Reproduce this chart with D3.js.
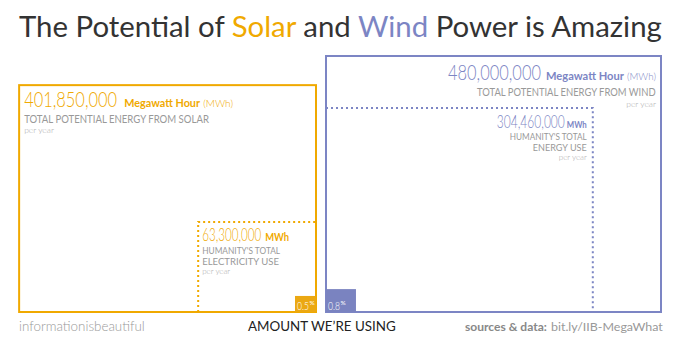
<!DOCTYPE html>
<html>
<head>
<meta charset="utf-8">
<script src="https://cdn.jsdelivr.net/npm/d3@7/dist/d3.min.js"></script>
<style>
  html, body { margin: 0; padding: 0; background: #fff; }
  svg { display: block; font-family: Lato, "Noto Sans", sans-serif; }
</style>
</head>
<body>
<svg id="chart" width="680" height="340"></svg>
<script>
// ---- data ----
const sources = ["Solar", "Wind"];
const potentialMWh = [401850000, 480000000];
const humanityUseMWh = [63300000, 304460000];
const usedPct = [0.5, 0.8];
const potentialLabels = ["TOTAL POTENTIAL ENERGY FROM SOLAR", "TOTAL POTENTIAL ENERGY FROM WIND"];
const useLabels = [["HUMANITY'S TOTAL", "ELECTRICITY USE"], ["HUMANITY'S TOTAL", "ENERGY USE"]];
const colours = ["#F0A900", "#7C85C4"];
const fills = ["#EBA812", "#7A83C0"];

const svg = d3.select("#chart");
const fmt = d3.format(",");

// ---- layout ----
const baseY = 312;      // common bottom line of both boxes
const gapCentre = 321;  // solar box grows leftwards, wind box rightwards
const gap = 5;

// box sides grow with a power of the value
const side = d3.scalePow().exponent(0.68).domain([0, d3.max(potentialMWh)]);
const wScale = side.copy().range([0, 335]);
const hScale = side.copy().range([0, 256]);

// a single text piece; when a width is given the glyphs are squeezed
// horizontally to it, which gives the narrow look of the figures
function piece(g, s, o) {
  const t = g.append("text").text(s)
    .attr("font-size", o.size).attr("fill", o.fill)
    .attr("font-weight", o.weight || 400);
  const w0 = t.node().getComputedTextLength();
  return { t, w: o.width || w0, k: o.width ? o.width / w0 : 1, dx: o.dx || 0, dy: o.dy || 0 };
}

// a row of pieces laid side by side, anchored at x
function row(g, x, y, anchor, parts) {
  const ps = parts.map(p => piece(g, p.s, p));
  const total = d3.sum(ps, p => p.w + p.dx);
  let cx = anchor === "end" ? x - total : anchor === "middle" ? x - total / 2 : x;
  ps.forEach(p => {
    cx += p.dx;
    p.t.attr("transform", `translate(${cx},${y + p.dy}) scale(${p.k},1)`);
    cx += p.w;
  });
}

// ---- title ----
const title = svg.append("text").attr("x", 19).attr("y", 37)
  .attr("font-size", 27).attr("fill", "#333").attr("font-weight", 400);
title.append("tspan").text("The Potential of ");
title.append("tspan").text("Solar").attr("fill", colours[0]);
title.append("tspan").text(" and ");
title.append("tspan").text("Wind").attr("fill", colours[1]);
title.append("tspan").text(" Power is Amazing");
const tw = title.node().getComputedTextLength();
title.attr("font-size", 27 * 643 / tw);

// ---- boxes ----
sources.forEach((name, i) => {
  const V = potentialMWh[i];
  const bw = wScale(V), bh = hScale(V);
  const x0 = i === 0 ? gapCentre - gap - bw : gapCentre + gap;
  const x1 = x0 + bw;
  const y0 = baseY - bh;
  const col = colours[i];
  const g = svg.append("g").attr("class", "source-" + name.toLowerCase());

  // inner box: humanity's use, area relative to the potential
  const inner = d3.scaleSqrt().domain([0, V]);
  const iw = inner.copy().range([0, bw])(humanityUseMWh[i]);
  const ih = inner.copy().range([0, bh])(humanityUseMWh[i]);
  // smallest box: share of the potential actually being used
  const uw = inner.copy().range([0, bw])(V * usedPct[i] / 100);
  const uh = inner.copy().range([0, bh])(V * usedPct[i] / 100);

  // outer frame
  g.append("rect").attr("x", x0).attr("y", y0).attr("width", bw).attr("height", bh)
    .attr("fill", "none").attr("stroke", col).attr("stroke-width", 2);

  // dotted inner frame
  const iy = baseY - ih;
  let pts;
  if (i === 0) {
    const ix = x1 - iw;
    pts = [[ix, baseY], [ix, iy], [x1, iy]];
  } else {
    const ix = x0 + iw;
    pts = [[x0, iy], [ix, iy], [ix, baseY]];
  }
  g.append("path").attr("d", d3.line()(pts)).attr("fill", "none")
    .attr("stroke", col).attr("stroke-width", 2).attr("stroke-dasharray", "2,3");

  // used share block
  const ux = i === 0 ? x1 - uw : x0;
  g.append("rect").attr("x", ux).attr("y", baseY - uh).attr("width", uw).attr("height", uh)
    .attr("fill", fills[i]);
  row(g, ux + 2, baseY - 2, "start", [
    { s: String(usedPct[i]), size: 12, fill: "#fff", weight: 300, width: 12 },
    { s: "%", size: 6.5, fill: "#fff", dx: 0.5, dy: -5 }
  ]);

  // potential labels
  if (i === 0) {
    const lx = x0 + 5;
    row(g, lx, y0 + 22, "start", [
      { s: fmt(V), size: 22, fill: col, weight: 300, width: 93 },
      { s: "Megawatt Hour", size: 12, fill: col, weight: 700, width: 76, dx: 7 },
      { s: "(MWh)", size: 9, fill: col, weight: 300, width: 30, dx: 3 }
    ]);
    row(g, lx, y0 + 38, "start", [{ s: potentialLabels[i], size: 10.5, fill: "#999", width: 185 }]);
    row(g, lx, y0 + 48, "start", [{ s: "per year", size: 8.5, fill: "#aaa", weight: 300 }]);
  } else {
    const rx = x1 - 5;
    row(g, rx, y0 + 24, "end", [
      { s: fmt(V), size: 22, fill: col, weight: 300, width: 93 },
      { s: "Megawatt Hour", size: 12, fill: col, weight: 700, width: 78, dx: 5 },
      { s: "(MWh)", size: 9, fill: col, weight: 300, width: 29, dx: 3 }
    ]);
    row(g, rx, y0 + 40, "end", [{ s: potentialLabels[i], size: 10.5, fill: "#999", width: 179 }]);
    row(g, rx, y0 + 51, "end", [{ s: "per year", size: 8.5, fill: "#aaa", weight: 300 }]);
  }

  // humanity's use labels
  if (i === 0) {
    const lx = x1 - iw + 4;
    row(g, lx, iy + 19, "start", [
      { s: fmt(humanityUseMWh[i]), size: 17, fill: col, weight: 300, width: 59 },
      { s: "MWh", size: 11, fill: col, weight: 700, width: 24, dx: 4 }
    ]);
    row(g, lx, iy + 32, "start", [{ s: useLabels[i][0], size: 9.5, fill: "#999", width: 78 }]);
    row(g, lx, iy + 43, "start", [{ s: useLabels[i][1], size: 9.5, fill: "#999", width: 77 }]);
    row(g, lx, iy + 52, "start", [{ s: "per year", size: 8, fill: "#aaa", weight: 300 }]);
  } else {
    const rx = x0 + iw - 6;
    row(g, rx, iy + 20, "end", [
      { s: fmt(humanityUseMWh[i]), size: 17, fill: col, weight: 300, width: 68 },
      { s: "MWh", size: 10, fill: col, weight: 700, width: 20, dx: 2 }
    ]);
    row(g, rx, iy + 32, "end", [{ s: useLabels[i][0], size: 10, fill: "#999", width: 77 }]);
    row(g, rx, iy + 43, "end", [{ s: useLabels[i][1], size: 10, fill: "#999", width: 54 }]);
    row(g, rx, iy + 52, "end", [{ s: "per year", size: 8, fill: "#aaa", weight: 300 }]);
  }
});

// ---- footer ----
row(svg, 19, 331, "start", [
  { s: "informationisbeautiful", size: 13, fill: "#999", weight: 300, width: 126 }]);
row(svg, 322, 331, "middle", [
  { s: "AMOUNT WE\u2019RE USING", size: 14, fill: "#222", width: 148 }]);
row(svg, 663, 331, "end", [
  { s: "sources & data:", size: 11.5, fill: "#888", weight: 700, width: 82 },
  { s: "bit.ly/IIB-MegaWhat", size: 11.5, fill: "#999", width: 112, dx: 4 }]);
</script>
</body>
</html>
